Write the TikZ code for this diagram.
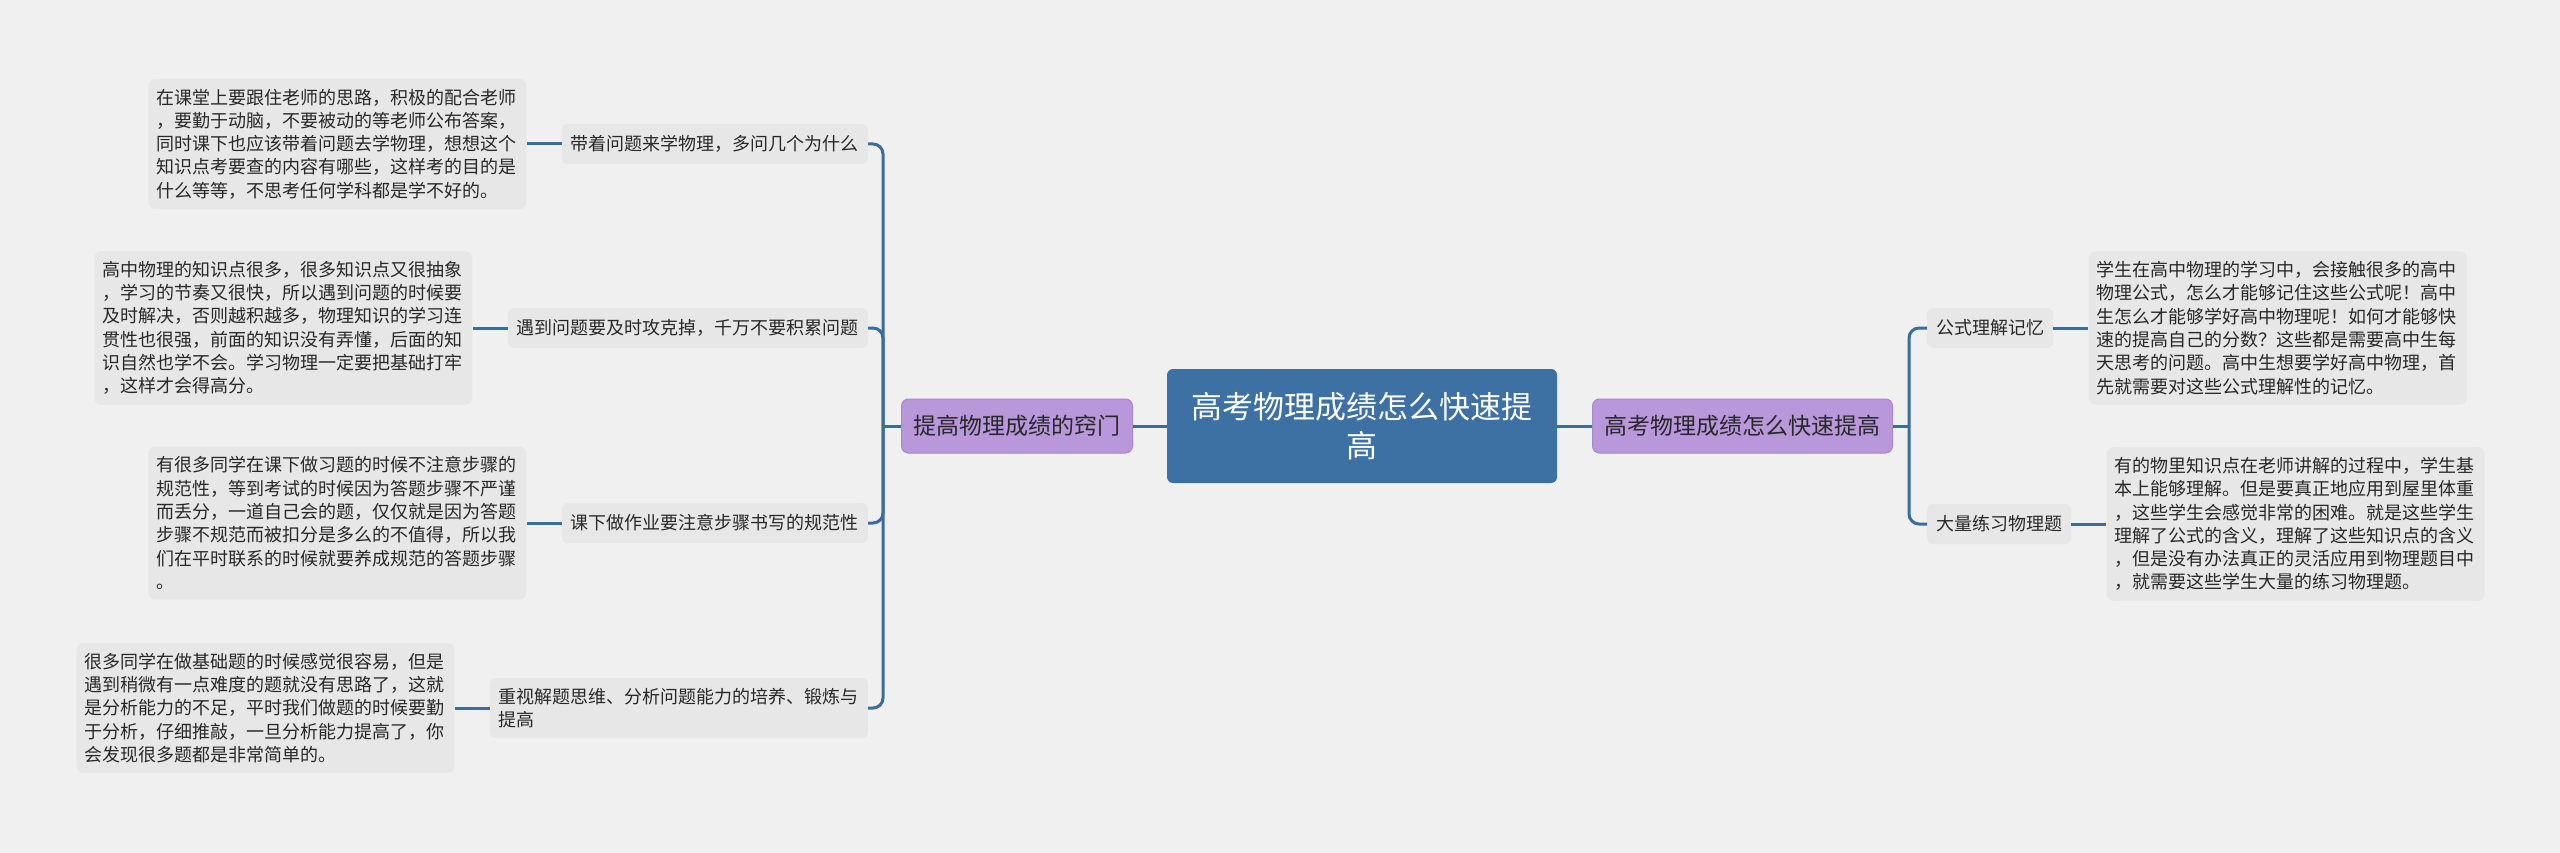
\documentclass[tikz,border=0pt]{standalone}
\usepackage{fontspec}
\usepackage{tikz}
\usepackage{xcolor}
\newfontfamily\cjkfont{Noto Sans CJK SC}
\definecolor{mindbg}{RGB}{240, 240, 240}
\definecolor{mindblue}{RGB}{61, 113, 163}
\definecolor{mindline}{RGB}{58, 108, 156}
\definecolor{mindpurple}{RGB}{184, 151, 218}
\definecolor{mindpurpleedge}{RGB}{168, 136, 204}
\definecolor{mindgray}{RGB}{231, 231, 231}
\definecolor{mindtext}{RGB}{40, 40, 40}
\usetikzlibrary{positioning}

\tikzset{
    centralbox/.style={fill=mindblue, text=white, rounded corners=6pt,
        font=\cjkfont\fontsize{31}{39}\selectfont, align=center,
        minimum width=390pt, minimum height=114pt, inner sep=0pt},
    branchbox/.style={fill=mindpurple, draw=mindpurpleedge, line width=1pt,
        rounded corners=7pt, text=mindtext,
        font=\cjkfont\fontsize{23}{30}\selectfont,
        minimum height=54pt, inner xsep=12pt, inner ysep=0pt},
    topicbox/.style={fill=mindgray, rounded corners=6pt, text=mindtext,
        font=\cjkfont\fontsize{18}{23.3}\selectfont, align=left,
        minimum height=40pt, inner xsep=9pt, inner ysep=10pt},
    leafbox/.style={fill=mindgray, rounded corners=7pt, text=mindtext,
        font=\cjkfont\fontsize{18}{23.3}\selectfont, align=left,
        text width=362pt, inner xsep=8pt, inner ysep=10pt},
    link/.style={draw=mindline, line width=3pt},
}

\begin{document}
\begin{tikzpicture}[x=1pt,y=-1pt]
    % Canvas
    \useasboundingbox (0,0) rectangle (2560,853);
    \fill[mindbg] (0,0) rectangle (2560,853);

    % Central topic and main branches
    \node[centralbox] (root) at (1362,426) {高考物理成绩怎么快速提\\高};
    \node[branchbox, anchor=east] (lmain) at (1133,426) {提高物理成绩的窍门};
    \node[branchbox, anchor=west] (rmain) at (1592,426) {高考物理成绩怎么快速提高};

    % Left topics
    \node[topicbox, anchor=east] (lt1) at (868,144) {带着问题来学物理，多问几个为什么};
    \node[topicbox, anchor=east] (lt2) at (868,328) {遇到问题要及时攻克掉，千万不要积累问题};
    \node[topicbox, anchor=east] (lt3) at (868,523) {课下做作业要注意步骤书写的规范性};
    \node[topicbox, anchor=east] (lt4) at (868,708) {重视解题思维、分析问题能力的培养、锻炼与\\提高};

    % Right topics
    \node[topicbox, anchor=west] (rt1) at (1927,328) {公式理解记忆};
    \node[topicbox, anchor=west] (rt2) at (1927,524) {大量练习物理题};

    % Left details
    \node[leafbox, left=35pt of lt1] (ld1) {在课堂上要跟住老师的思路，积极的配合老师\\，要勤于动脑，不要被动的等老师公布答案，\\同时课下也应该带着问题去学物理，想想这个\\知识点考要查的内容有哪些，这样考的目的是\\什么等等，不思考任何学科都是学不好的。};
    \node[leafbox, left=35pt of lt2] (ld2) {高中物理的知识点很多，很多知识点又很抽象\\，学习的节奏又很快，所以遇到问题的时候要\\及时解决，否则越积越多，物理知识的学习连\\贯性也很强，前面的知识没有弄懂，后面的知\\识自然也学不会。学习物理一定要把基础打牢\\，这样才会得高分。};
    \node[leafbox, left=35pt of lt3] (ld3) {有很多同学在课下做习题的时候不注意步骤的\\规范性，等到考试的时候因为答题步骤不严谨\\而丢分，一道自己会的题，仅仅就是因为答题\\步骤不规范而被扣分是多么的不值得，所以我\\们在平时联系的时候就要养成规范的答题步骤\\。};
    \node[leafbox, left=35pt of lt4] (ld4) {很多同学在做基础题的时候感觉很容易，但是\\遇到稍微有一点难度的题就没有思路了，这就\\是分析能力的不足，平时我们做题的时候要勤\\于分析，仔细推敲，一旦分析能力提高了，你\\会发现很多题都是非常简单的。};

    % Right details
    \node[leafbox, right=35pt of rt1] (rd1) {学生在高中物理的学习中，会接触很多的高中\\物理公式，怎么才能够记住这些公式呢！高中\\生怎么才能够学好高中物理呢！如何才能够快\\速的提高自己的分数？这些都是需要高中生每\\天思考的问题。高中生想要学好高中物理，首\\先就需要对这些公式理解性的记忆。};
    \node[leafbox, right=35pt of rt2] (rd2) {有的物里知识点在老师讲解的过程中，学生基\\本上能够理解。但是要真正地应用到屋里体重\\，这些学生会感觉非常的困难。就是这些学生\\理解了公式的含义，理解了这些知识点的含义\\，但是没有办法真正的灵活应用到物理题目中\\，就需要这些学生大量的练习物理题。};

    % Connectors
    \draw[link] (root.west) -- (lmain.east);
    \draw[link] (root.east) -- (rmain.west);
    \coordinate (ljoint) at ([xshift=-18pt]lmain.west);
    \coordinate (rjoint) at ([xshift=16pt]rmain.east);
    \draw[link] (lmain.west) -- (ljoint);
    \draw[link] (rmain.east) -- (rjoint);
    \foreach \t in {lt1, lt2, lt3, lt4} {
        \draw[link, rounded corners=10pt] (ljoint) |- (\t.east);
    }
    \foreach \t in {rt1, rt2} {
        \draw[link, rounded corners=10pt] (rjoint) |- (\t.west);
    }
    \foreach \t/\d in {lt1/ld1, lt2/ld2, lt3/ld3, lt4/ld4} {
        \draw[link] (\t.west) -- (\d.east);
    }
    \foreach \t/\d in {rt1/rd1, rt2/rd2} {
        \draw[link] (\t.east) -- (\d.west);
    }
\end{tikzpicture}
\end{document}
